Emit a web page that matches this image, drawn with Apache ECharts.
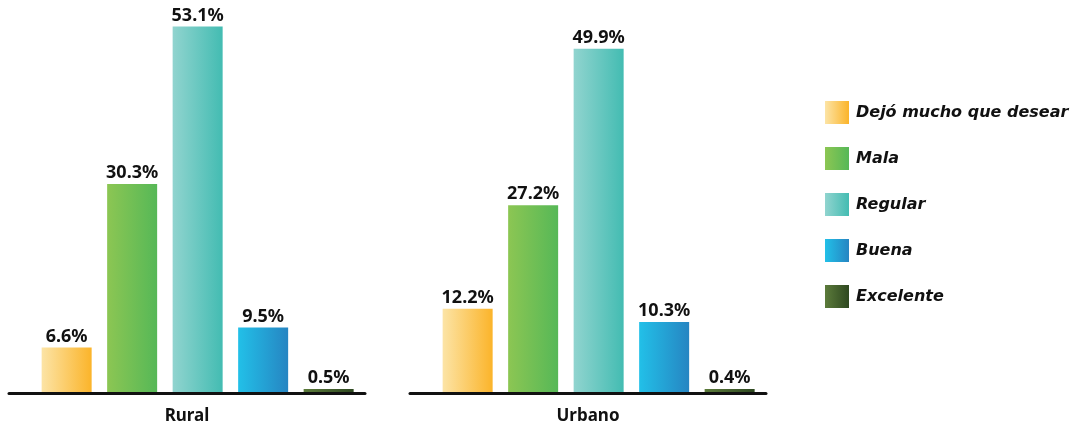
<!DOCTYPE html>
<html>
<head>
<meta charset="utf-8">
<script src="https://cdn.jsdelivr.net/npm/echarts@6/dist/echarts.min.js"></script>
<style>
html,body{margin:0;padding:0;background:#fff;}
#chart{width:1077px;height:425px;}
</style>
</head>
<body>
<div id="chart"></div>
<script>
const categories = ['Dejó mucho que desear', 'Mala', 'Regular', 'Buena', 'Excelente'];
const groups = ['Rural', 'Urbano'];
const rural = [6.6, 30.3, 53.1, 9.5, 0.5];
const urbano = [12.2, 27.2, 49.9, 10.3, 0.4];
const gradientStops = [
  ['#fce4a6', '#fbb42a'],
  ['#8cc653', '#56b857'],
  ['#91d4cf', '#43bcb2'],
  ['#22c0e8', '#2685c2'],
  ['#5c7b3b', '#2e4820']
];

const FONT = '"Noto Sans"';
const LEGEND_FONT = '"DejaVu Sans"';
const groupValues = [rural, urbano];
const gridLefts = [9, 410];

const grids = gridLefts.map(l => ({ left: l, width: 356, top: 13.5, height: 379.5, outerBoundsMode: 'none', containLabel: false }));
const xAxes = groups.map((g, gi) => ({
  type: 'value', gridIndex: gi, min: -0.88, max: 4.555, z: 5,
  axisLine: { show: true, lineStyle: { color: '#111', width: 3 } },
  axisTick: { show: false }, axisLabel: { show: false }, splitLine: { show: false },
  name: g, nameLocation: 'middle', nameGap: 15,
  nameTextStyle: { fontFamily: FONT, fontWeight: 'bold', fontSize: 17, color: '#111' }
}));
const yAxes = groups.map((g, gi) => ({
  type: 'value', gridIndex: gi, min: 0, max: 55, show: false
}));

const series = [];
groups.forEach((g, gi) => {
  categories.forEach((c, ci) => {
    series.push({
      type: 'bar', name: c, xAxisIndex: gi, yAxisIndex: gi,
      barWidth: 50, barGap: '-100%', barMinHeight: 4,
      data: [[ci, groupValues[gi][ci]]],
      itemStyle: {
        color: new echarts.graphic.LinearGradient(0, 0, 1, 0, [
          { offset: 0, color: gradientStops[ci][0] },
          { offset: 1, color: gradientStops[ci][1] }
        ])
      },
      label: {
        show: true, position: 'top', distance: 2,
        fontFamily: FONT, fontWeight: 'bold', fontSize: 18, color: '#111',
        formatter: p => p.value[1].toFixed(1) + '%'
      }
    });
  });
});

const chart = echarts.init(document.getElementById('chart'));
chart.setOption({
  animation: false,
  grid: grids, xAxis: xAxes, yAxis: yAxes,
  legend: {
    data: categories, orient: 'vertical', left: 825, top: 101, padding: 0,
    itemWidth: 24, itemHeight: 23, itemGap: 23, icon: 'rect', selectedMode: false,
    textStyle: { fontFamily: LEGEND_FONT, fontWeight: 'bold', fontStyle: 'italic', fontSize: 16, color: '#111', padding: [0, 0, 0, 2] }
  },
  series: series
});
</script>
</body>
</html>
